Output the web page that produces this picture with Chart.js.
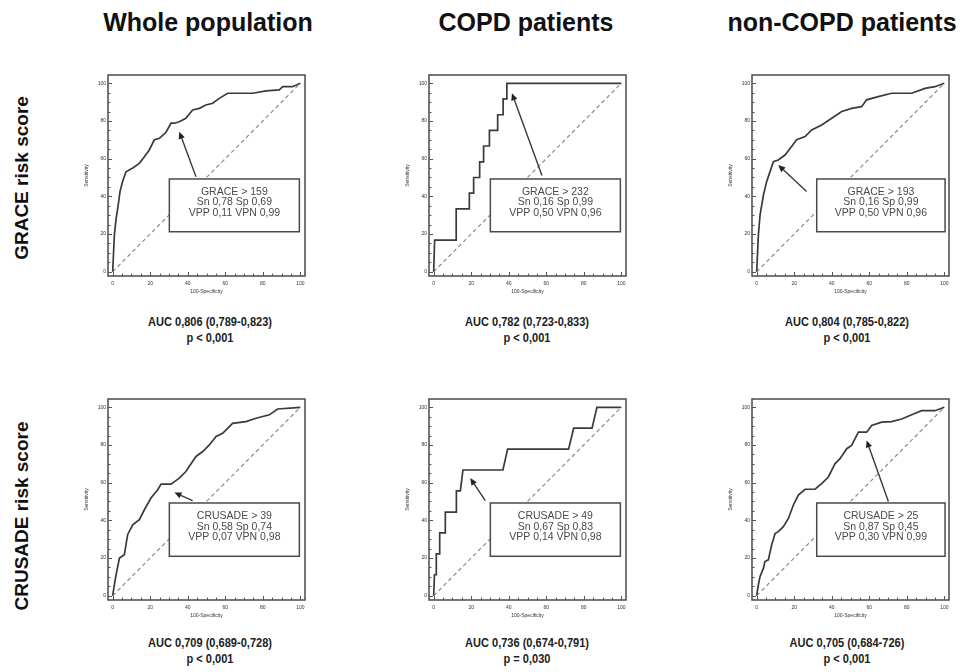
<!DOCTYPE html>
<html><head><meta charset="utf-8">
<script src="https://cdn.jsdelivr.net/npm/chart.js@4.4.1/dist/chart.umd.min.js"></script>
<style>
body{margin:0;background:#fff;}
#wrap{position:relative;width:960px;height:672px;overflow:hidden;font-family:"Liberation Sans",Arial,sans-serif;background:#fff;}
.col{position:absolute;top:7px;font-weight:bold;font-size:25px;line-height:30px;color:#111;white-space:nowrap;transform:translateX(-50%);}
.row{position:absolute;font-weight:bold;font-size:19px;line-height:22px;color:#111;white-space:nowrap;transform:translate(-50%,-50%) rotate(-90deg);}
.auc{position:absolute;font-family:"Liberation Sans",Arial,sans-serif;font-weight:bold;font-size:12px;line-height:16px;color:#222;text-align:center;white-space:nowrap;transform:translateX(-50%) scaleX(0.92);}
canvas{position:absolute;}
</style></head>
<body><div id="wrap"></div>
<script>
// ---------- text ----------
const columnTitles = ["Whole population", "COPD patients", "non-COPD patients"];
const rowTitles = ["GRACE risk score", "CRUSADE risk score"];
const xAxisTitle = "100-Specificity";
const yAxisTitle = "Sensitivity";
const axisTicks = [0, 20, 40, 60, 80, 100];
const referenceLine = [0, 100];

// ---------- ROC curves (x = 100-Specificity, y = Sensitivity) ----------
const graceWholeFpr  = [0, 0.4, 0.9, 1.8, 2.7, 3.9, 5.3, 7.1, 10.7, 14.2, 16.9, 19.5, 22.2, 24.9, 28.4, 31.1, 32.9, 35.5, 39, 42.6, 46.2, 49.7, 53.3, 56.8, 61.3, 67.5, 74.6, 81.7, 88.8, 90.6, 95.9, 100];
const graceWholeSens = [0, 9, 19.5, 28, 33.6, 42.5, 48, 53, 55, 57.5, 61, 64.6, 70, 70.8, 74, 78.8, 78.8, 79.6, 81.4, 85.8, 86.7, 88.5, 89.4, 92, 94.7, 94.7, 94.7, 96, 96.5, 98.2, 98.2, 100];

const graceCopdFpr   = [0, 0.5, 12, 12, 19, 19, 21.3, 21.3, 24.5, 24.5, 26.6, 26.6, 29.7, 29.7, 34.1, 34.1, 37, 37, 39, 39, 100];
const graceCopdSens  = [0, 16.7, 16.7, 33.3, 33.3, 41.7, 41.7, 50, 50, 58.3, 58.3, 66.7, 66.7, 75, 75, 83.3, 83.3, 91.7, 91.7, 100, 100];

const graceNonCopdFpr  = [0, 0.4, 0.9, 1.8, 3.6, 5.3, 7.1, 8.9, 11.5, 15.1, 18.6, 21.3, 25.8, 29.3, 34.6, 40, 45.3, 50.6, 55.9, 58.6, 64.8, 71.9, 82.6, 89.7, 95, 100];
const graceNonCopdSens = [0, 8.8, 19.5, 30.1, 40.7, 47.8, 53.1, 58.4, 59.3, 61.9, 66.4, 70, 71.7, 75.2, 77.9, 81.4, 85, 86.7, 87.6, 91.2, 92.9, 94.7, 94.7, 97.3, 98.2, 100];

const crusadeWholeFpr  = [0, 0.9, 1.8, 3.6, 6.2, 8, 10.7, 14.2, 16.9, 20.4, 24, 25.8, 28.4, 31.1, 35.5, 39, 44.4, 48, 51.5, 55.1, 58.6, 63.9, 71, 76.4, 83.5, 87.9, 100];
const crusadeWholeSens = [0, 5.8, 11, 20, 21.7, 32.5, 37.6, 40.3, 45.6, 51.8, 56.2, 59.2, 59.2, 59.2, 62.4, 65.9, 73.9, 76.5, 80, 84.5, 86.2, 91.5, 92.4, 94.2, 96, 99.1, 100];

const crusadeCopdFpr   = [0, 0.4, 1.4, 1.4, 3.2, 3.2, 6.2, 6.2, 12.1, 12.1, 14.2, 15.6, 36.9, 39.4, 71.9, 74.6, 84.4, 87, 100];
const crusadeCopdSens  = [0, 11.1, 11.1, 22.2, 22.2, 33.3, 33.3, 44.4, 44.4, 55.6, 55.6, 66.7, 66.7, 77.8, 77.8, 88.9, 88.9, 100, 100];

const crusadeNonCopdFpr  = [0, 0.9, 1.8, 3.6, 4.4, 6.2, 8, 9.8, 11.5, 14.2, 16.9, 19.5, 22.2, 25.8, 31.1, 34.6, 38.2, 41.7, 44.4, 48, 50.6, 54.2, 55.9, 58.6, 61.3, 66.6, 71.9, 77.3, 82.6, 87.9, 95, 100];
const crusadeNonCopdSens = [0, 5.8, 10.2, 14.6, 18.1, 19, 27, 33, 34, 36.6, 41, 48, 53.4, 56.5, 56.5, 59.5, 63, 70, 72.7, 78, 79.8, 86.8, 86.8, 86.8, 90.3, 92.1, 92.4, 93.8, 96, 98.2, 98.2, 100];

// ---------- cut-off notes and AUC ----------
const cutoffLines = [
  ["GRACE > 159", "Sn 0,78 Sp 0,69", "VPP 0,11 VPN 0,99"],
  ["GRACE > 232", "Sn 0,16 Sp 0,99", "VPP 0,50 VPN 0,96"],
  ["GRACE > 193", "Sn 0,16 Sp 0,99", "VPP 0,50 VPN 0,96"],
  ["CRUSADE > 39", "Sn 0,58 Sp 0,74", "VPP 0,07 VPN 0,98"],
  ["CRUSADE > 49", "Sn 0,67 Sp 0,83", "VPP 0,14 VPN 0,98"],
  ["CRUSADE > 25", "Sn 0,87 Sp 0,45", "VPP 0,30 VPN 0,99"]
];
const aucLabels = ["AUC 0,806 (0,789-0,823)", "AUC 0,782 (0,723-0,833)", "AUC 0,804 (0,785-0,822)",
                   "AUC 0,709 (0,689-0,728)", "AUC 0,736 (0,674-0,791)", "AUC 0,705 (0,684-726)"];
const pLabels = ["p < 0,001", "p < 0,001", "p < 0,001", "p < 0,001", "p = 0,030", "p < 0,001"];

// ---------- layout (page pixels / data-unit anchors for notes) ----------
const panelFrames = [[108, 75], [429, 75], [752, 75], [108, 399], [429, 399], [752, 399]];
const noteBoxes = [[30.2, 49.2, 99.5, 21.2], [30.2, 49.2, 99.5, 21.2], [32, 49.2, 100.4, 21.2],
                   [30.2, 49.2, 99.5, 20.9], [30.2, 49.2, 99.5, 20.9], [32, 49.2, 100.4, 20.9]];
const noteArrows = [[44.4, 50.4, 35.5, 74.3], [57.7, 51, 41.7, 94.7], [26.6, 42.5, 11.5, 56.6],
                    [42.6, 50.4, 32.9, 54.8], [27.5, 50.4, 19.5, 62.4], [70.2, 50, 58.6, 82.4]];
const colCenters = [208, 526, 842];
const aucCenters = [210, 527, 847];

const curves = [
  [graceWholeFpr, graceWholeSens], [graceCopdFpr, graceCopdSens], [graceNonCopdFpr, graceNonCopdSens],
  [crusadeWholeFpr, crusadeWholeSens], [crusadeCopdFpr, crusadeCopdSens], [crusadeNonCopdFpr, crusadeNonCopdSens]
];

const FRAME_W = 197, FRAME_H = 201, YAXIS_W = 24, XAXIS_H = 22, PAD_T = 5, PAD_R = 5;

const framePlugin = {
  id: 'rocFrame',
  afterDraw(chart) {
    const {ctx, chartArea: a, scales: {x, y}} = chart;
    ctx.save();
    ctx.strokeStyle = '#4a4a4a';
    ctx.lineWidth = 1.5;
    ctx.strokeRect(a.left, a.top, a.right - a.left, a.bottom - a.top);
    ctx.lineWidth = 1;
    ctx.strokeStyle = '#555';
    for (let v = 0; v <= 100; v += 5) {
      const len = v % 20 === 0 ? 4 : 2.5;
      const px = Math.round(x.getPixelForValue(v)) + 0.5;
      const py = Math.round(y.getPixelForValue(v)) + 0.5;
      ctx.beginPath();
      ctx.moveTo(px, a.bottom); ctx.lineTo(px, a.bottom - len);
      ctx.moveTo(a.left, py); ctx.lineTo(a.left + len, py);
      ctx.stroke();
    }
    ctx.restore();
  }
};

const notePlugin = {
  id: 'rocNote',
  afterDatasetsDraw(chart, args, opts) {
    const {ctx, scales: {x, y}} = chart;
    const [bx1, by1, bx2, by2] = opts.box;
    const l = x.getPixelForValue(bx1), r = x.getPixelForValue(bx2);
    const t = y.getPixelForValue(by1), b = y.getPixelForValue(by2);
    ctx.save();
    ctx.fillStyle = '#fff';
    ctx.fillRect(l, t, r - l, b - t);
    ctx.strokeStyle = '#4a4a4a';
    ctx.lineWidth = 1.5;
    ctx.strokeRect(l, t, r - l, b - t);
    ctx.fillStyle = '#4a4a4a';
    ctx.font = '10.5px "Liberation Sans", Arial, sans-serif';
    ctx.textAlign = 'center';
    ctx.textBaseline = 'middle';
    const cx = (l + r) / 2, cy = (t + b) / 2 - 3;
    opts.lines.forEach((s, i) => ctx.fillText(s, cx, cy + (i - 1) * 10.7));
    // arrow
    const [ax1, ay1, ax2, ay2] = opts.arrow;
    const x1 = x.getPixelForValue(ax1), y1 = y.getPixelForValue(ay1);
    const x2 = x.getPixelForValue(ax2), y2 = y.getPixelForValue(ay2);
    const ang = Math.atan2(y2 - y1, x2 - x1);
    const hl = 7, hw = 3.2;
    const bxp = x2 - hl * Math.cos(ang), byp = y2 - hl * Math.sin(ang);
    ctx.strokeStyle = '#3a3a3a';
    ctx.lineWidth = 1.4;
    ctx.beginPath(); ctx.moveTo(x1, y1); ctx.lineTo(bxp, byp); ctx.stroke();
    ctx.fillStyle = '#222';
    ctx.beginPath();
    ctx.moveTo(x2, y2);
    ctx.lineTo(bxp + hw * Math.sin(ang), byp - hw * Math.cos(ang));
    ctx.lineTo(bxp - hw * Math.sin(ang), byp + hw * Math.cos(ang));
    ctx.closePath(); ctx.fill();
    ctx.restore();
  }
};

const wrap = document.getElementById('wrap');
columnTitles.forEach((t, i) => {
  const d = document.createElement('div'); d.className = 'col'; d.textContent = t;
  d.style.left = colCenters[i] + 'px'; wrap.appendChild(d);
});
const rowCenters = [178, 516];
rowTitles.forEach((t, i) => {
  const d = document.createElement('div'); d.className = 'row'; d.textContent = t;
  d.style.left = '22px'; d.style.top = rowCenters[i] + 'px'; wrap.appendChild(d);
});

curves.forEach(([fpr, sens], i) => {
  const [L, T] = panelFrames[i];
  const c = document.createElement('canvas');
  const W = YAXIS_W + FRAME_W + PAD_R, H = PAD_T + FRAME_H + XAXIS_H;
  c.width = W; c.height = H;
  c.style.left = (L - YAXIS_W) + 'px'; c.style.top = (T - PAD_T) + 'px';
  c.style.width = W + 'px'; c.style.height = H + 'px';
  wrap.appendChild(c);

  const tickFont = {size: 5, family: '"Liberation Sans", Arial, sans-serif'};
  new Chart(c, {
    type: 'scatter',
    data: {datasets: [
      {data: fpr.map((v, k) => ({x: v, y: sens[k]})), showLine: true, borderColor: '#3a3a3a', borderWidth: 1.7, pointRadius: 0, tension: 0},
      {data: referenceLine.map(v => ({x: v, y: v})), showLine: true, borderColor: '#8c8c8c', borderWidth: 1.2, borderDash: [4, 3], pointRadius: 0}
    ]},
    options: {
      responsive: false, animation: false, devicePixelRatio: 1,
      layout: {padding: {top: PAD_T, right: PAD_R, left: 0, bottom: 0}},
      plugins: {legend: {display: false}, tooltip: {enabled: false},
        rocNote: {box: noteBoxes[i], arrow: noteArrows[i], lines: cutoffLines[i]}},
      scales: {
        x: {type: 'linear', min: -2.5, max: 102.5, afterFit(s) { s.height = XAXIS_H; },
            afterBuildTicks(s) { s.ticks = axisTicks.map(v => ({value: v})); },
            grid: {display: false, drawTicks: false}, border: {display: false},
            ticks: {font: tickFont, color: '#333', padding: 5, maxRotation: 0, autoSkip: false},
            title: {display: true, text: xAxisTitle, font: tickFont, color: '#333', padding: {top: 0, bottom: 3}}},
        y: {type: 'linear', min: -2.3, max: 104.4, afterFit(s) { s.width = YAXIS_W; },
            afterBuildTicks(s) { s.ticks = axisTicks.map(v => ({value: v})); },
            grid: {display: false, drawTicks: false}, border: {display: false},
            ticks: {font: tickFont, color: '#333', padding: 2, autoSkip: false},
            title: {display: true, text: yAxisTitle, font: tickFont, color: '#333', padding: 0}}
      }
    },
    plugins: [framePlugin, notePlugin]
  });

  const a = document.createElement('div'); a.className = 'auc';
  a.style.left = aucCenters[i % 3] + 'px';
  a.style.top = (i < 3 ? 314 : 635) + 'px';
  const l1 = document.createElement('div'); l1.textContent = aucLabels[i];
  const l2 = document.createElement('div'); l2.textContent = pLabels[i];
  a.appendChild(l1); a.appendChild(l2);
  wrap.appendChild(a);
});
</script>
</body></html>
